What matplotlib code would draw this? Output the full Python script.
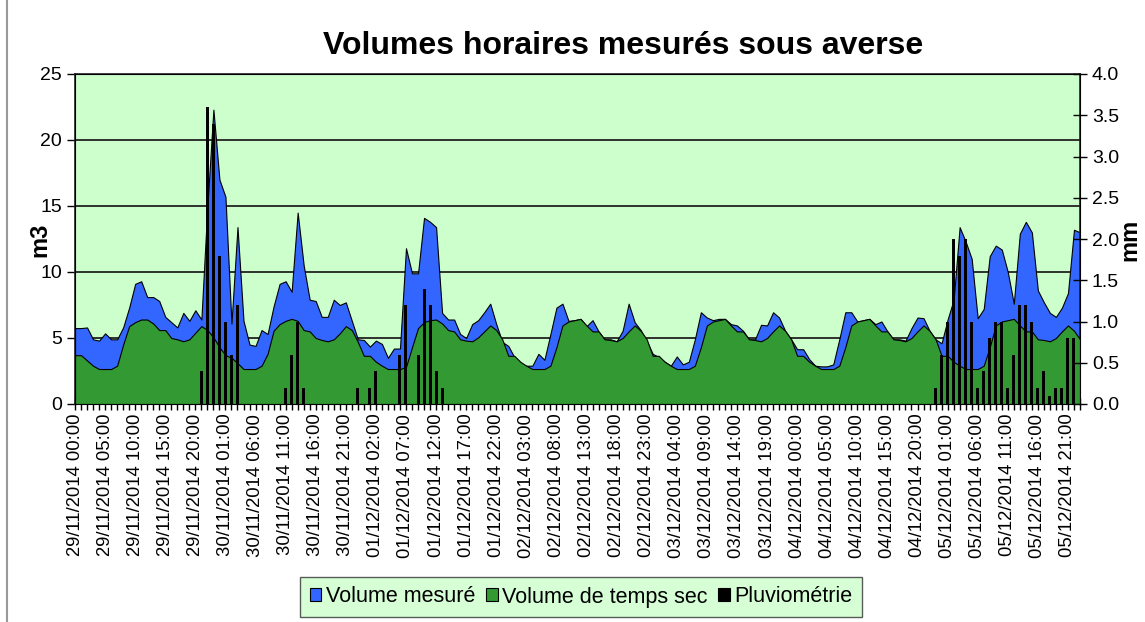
import matplotlib
matplotlib.use("Agg")
import matplotlib.pyplot as plt
from matplotlib.patches import Patch
import numpy as np
import pandas as pd

plt.rcParams['font.family'] = ['Liberation Sans', 'DejaVu Sans']

# hourly timestamps, 29/11/2014 00:00 -> 05/12/2014 23:00
hours = pd.date_range('2014-11-29 00:00', periods=168, freq='h')
tick_labels = [t.strftime('%d/%m/%Y %H:%M') for t in hours]

# measured volume (m3), one row per day
volume_mesure = [
    5.75, 5.75, 5.8, 4.9, 4.8, 5.35, 4.9, 4.9, 5.8, 7.3, 9.1, 9.3, 8.1, 8.1, 7.8, 6.6, 6.2, 5.8, 6.9, 6.3, 7.1, 6.4, 15.0, 22.3,
    17.0, 15.7, 6.1, 13.4, 6.3, 4.5, 4.4, 5.6, 5.3, 7.4, 9.1, 9.3, 8.5, 14.5, 10.5, 7.9, 7.8, 6.6, 6.6, 7.9, 7.5, 7.7, 6.3, 4.9,
    4.85, 4.35, 4.8, 4.55, 3.5, 4.2, 4.2, 11.8, 9.9, 9.9, 14.1, 13.8, 13.4, 6.9, 6.4, 6.4, 5.3, 5.0, 6.05, 6.35, 6.95, 7.6, 6.05, 4.7,
    4.4, 3.55, 3.0, 2.9, 2.9, 3.8, 3.35, 5.3, 7.3, 7.6, 6.3, 6.35, 6.45, 5.9, 6.35, 5.5, 4.9, 4.9, 4.75, 5.55, 7.6, 6.2, 5.6, 4.75,
    3.8, 3.55, 3.2, 2.9, 3.6, 3.0, 3.2, 4.9, 6.95, 6.55, 6.35, 6.45, 6.45, 6.05, 5.95, 5.55, 4.9, 4.9, 6.0, 5.95, 6.95, 6.55, 5.55, 4.9,
    4.15, 4.15, 3.4, 2.9, 2.85, 2.85, 3.0, 4.9, 6.95, 6.95, 6.25, 6.35, 6.45, 6.05, 6.25, 5.5, 4.9, 4.9, 4.8, 5.75, 6.55, 6.5, 5.55, 4.9,
    4.6, 6.4, 7.9, 13.4, 12.3, 11.0, 6.5, 7.2, 11.2, 12.0, 11.7, 10.0, 7.6, 12.9, 13.8, 13.0, 8.6, 7.7, 6.9, 6.6, 7.3, 8.4, 13.2, 13.0,
]

# dry weather volume (m3)
volume_temps_sec = [
    3.7, 3.7, 3.3, 2.9, 2.65, 2.65, 2.65, 2.9, 4.5, 5.9, 6.2, 6.4, 6.4, 6.1, 5.6, 5.6, 5.0, 4.9, 4.75, 4.9, 5.4, 5.9, 5.6, 5.05,
    4.3, 3.7, 3.5, 3.1, 2.65, 2.65, 2.65, 2.9, 3.8, 5.55, 6.05, 6.3, 6.45, 6.3, 5.6, 5.5, 5.0, 4.85, 4.75, 4.9, 5.35, 5.9, 5.6, 4.7,
    3.65, 3.65, 3.2, 2.9, 2.65, 2.65, 2.65, 2.8, 4.3, 5.75, 6.2, 6.35, 6.4, 6.1, 5.6, 5.5, 4.9, 4.8, 4.75, 5.05, 5.5, 5.95, 5.6, 4.9,
    3.65, 3.65, 3.2, 2.9, 2.65, 2.65, 2.65, 2.9, 4.3, 5.95, 6.25, 6.35, 6.45, 5.95, 5.5, 5.5, 4.9, 4.85, 4.75, 5.0, 5.5, 5.95, 5.55, 4.9,
    3.65, 3.65, 3.2, 2.9, 2.65, 2.65, 2.65, 2.9, 4.3, 5.95, 6.25, 6.35, 6.45, 5.95, 5.5, 5.5, 4.9, 4.85, 4.75, 5.0, 5.5, 5.95, 5.55, 4.9,
    3.65, 3.65, 3.2, 2.9, 2.65, 2.65, 2.65, 2.9, 4.3, 5.95, 6.25, 6.35, 6.45, 5.95, 5.5, 5.5, 4.9, 4.85, 4.75, 5.0, 5.5, 5.95, 5.55, 4.9,
    3.65, 3.65, 3.2, 2.9, 2.65, 2.65, 2.65, 2.9, 4.3, 5.95, 6.25, 6.35, 6.45, 5.95, 5.5, 5.5, 4.9, 4.85, 4.75, 5.0, 5.5, 5.95, 5.55, 4.9,
]

# rainfall (mm)
pluviometrie = [
    0, 0, 0, 0, 0, 0, 0, 0, 0, 0, 0, 0, 0, 0, 0, 0, 0, 0, 0, 0, 0, 0.4, 3.6, 3.4,
    1.8, 1.0, 0.6, 1.2, 0, 0, 0, 0, 0, 0, 0, 0.2, 0.6, 1.0, 0.2, 0, 0, 0, 0, 0, 0, 0, 0, 0.2,
    0, 0.2, 0.4, 0, 0, 0, 0.6, 1.2, 0, 0.6, 1.4, 1.2, 0.4, 0.2, 0, 0, 0, 0, 0, 0, 0, 0, 0, 0,
    0, 0, 0, 0, 0, 0, 0, 0, 0, 0, 0, 0, 0, 0, 0, 0, 0, 0, 0, 0, 0, 0, 0, 0,
    0, 0, 0, 0, 0, 0, 0, 0, 0, 0, 0, 0, 0, 0, 0, 0, 0, 0, 0, 0, 0, 0, 0, 0,
    0, 0, 0, 0, 0, 0, 0, 0, 0, 0, 0, 0, 0, 0, 0, 0, 0, 0, 0, 0, 0, 0, 0, 0.2,
    0.6, 1.0, 2.0, 1.8, 2.0, 1.0, 0.2, 0.4, 0.8, 1.0, 1.0, 0.2, 0.6, 1.2, 1.2, 1.0, 0.2, 0.4, 0.1, 0.2, 0.2, 0.8, 0.8, 0,
]

BLUE = '#3366FF'
GREEN = '#339933'
BG = '#CCFFCC'

x = np.arange(len(hours))

fig = plt.figure(figsize=(11.45, 6.22), dpi=100)
ax = fig.add_axes([75 / 1145, 1 - 404 / 622, 1005 / 1145, 330 / 622])
ax.set_facecolor(BG)

ax.fill_between(x, volume_mesure, color=BLUE, edgecolor='black', linewidth=0.8, zorder=2)
ax.fill_between(x, volume_temps_sec, color=GREEN, edgecolor='black', linewidth=0.8, zorder=3)

ax.set_xlim(0, len(hours) - 1)
ax.set_ylim(0, 25)
ax.set_yticks(range(0, 26, 5))
ax.yaxis.grid(True, color='#222222', linewidth=1.3)
ax.set_axisbelow(True)
ax.tick_params(axis='y', labelsize=14, direction='out', length=6, width=1)
ax.set_xticks(x)
ax.set_xticklabels([lab if i % 5 == 0 else '' for i, lab in enumerate(tick_labels)],
                   rotation=90, fontsize=13.3)
ax.tick_params(axis='x', direction='inout', length=8, width=1, pad=3)
for s in ax.spines.values():
    s.set_color('#222222')
    s.set_linewidth(1.2)

ax2 = ax.twinx()
ax2.bar(x, pluviometrie, width=0.5, color='black', zorder=4)
ax2.set_ylim(0, 4)
ax2.set_yticks(np.arange(0, 4.01, 0.5))
ax2.set_yticklabels(['%.1f' % v for v in np.arange(0, 4.01, 0.5)])
ax2.tick_params(axis='y', labelsize=14, direction='inout', length=10, width=1)
ax2.set_xlim(0, len(hours) - 1)

fig.text(623 / 1145, 1 - 46 / 622, 'Volumes horaires mesurés sous averse',
         ha='center', va='center', fontsize=23, fontweight='bold')
fig.text(40 / 1145, 1 - 240 / 622, 'm3', rotation=90, ha='center', va='center',
         fontsize=17, fontweight='bold')
fig.text(1130 / 1145, 1 - 240 / 622, 'mm', rotation=90, ha='center', va='center',
         fontsize=17, fontweight='bold')

handles = [Patch(facecolor=BLUE, edgecolor='black', linewidth=0.8),
           Patch(facecolor=GREEN, edgecolor='black', linewidth=0.8),
           Patch(facecolor='black', edgecolor='black', linewidth=0.8)]
leg = fig.legend(handles, ['Volume mesuré', 'Volume de temps sec', 'Pluviométrie'],
                 loc='center', bbox_to_anchor=(581 / 1145, 1 - 597 / 622), ncol=3,
                 fontsize=15.5, frameon=True, fancybox=False, handlelength=0.55,
                 handleheight=0.55, handletextpad=0.2, columnspacing=0.5,
                 borderpad=0.45)
leg.get_frame().set_facecolor(BG)
leg.get_frame().set_edgecolor('#333333')
leg.get_frame().set_linewidth(1.0)

# chart area border
fig.add_artist(plt.Line2D([7 / 1145, 7 / 1145], [0, 1], color='#999999', linewidth=1.5))

fig.savefig('out.png', dpi=100)
